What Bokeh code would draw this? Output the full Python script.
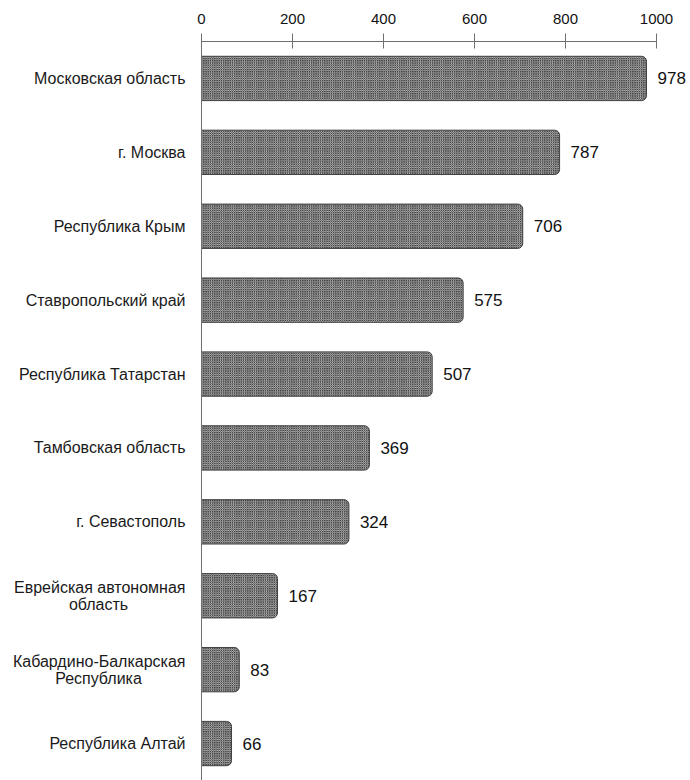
from bokeh.plotting import figure
from bokeh.models import ColumnDataSource, FactorRange, LabelSet, FixedTicker, Span
from bokeh.core.properties import value
from bokeh.embed import file_html
from bokeh.resources import INLINE

# ---- data ----
regions = [
    "Московская область",
    "г. Москва",
    "Республика Крым",
    "Ставропольский край",
    "Республика Татарстан",
    "Тамбовская область",
    "г. Севастополь",
    "Еврейская автономная область",
    "Кабардино-Балкарская Республика",
    "Республика Алтай",
]
values = [978, 787, 706, 575, 507, 369, 324, 167, 83, 66]
label_line1 = [
    "Московская область", "г. Москва", "Республика Крым", "Ставропольский край",
    "Республика Татарстан", "Тамбовская область", "г. Севастополь",
    "Еврейская автономная", "Кабардино-Балкарская", "Республика Алтай",
]
label_line2 = ["", "", "", "", "", "", "", "область", "Республика", ""]
x_ticks = [0, 200, 400, 600, 800, 1000]

FONT = "Liberation Sans"

src = ColumnDataSource(dict(
    region=regions, value=values,
    value_text=[str(v) for v in values],
))
single = [i for i, t in enumerate(label_line2) if t == ""]
double = [i for i, t in enumerate(label_line2) if t != ""]
src_single = ColumnDataSource(dict(region=[regions[i] for i in single],
                                   l1=[label_line1[i] for i in single],
                                   zero=[0] * len(single)))
src_double = ColumnDataSource(dict(region=[regions[i] for i in double],
                                   l1=[label_line1[i] for i in double],
                                   l2=[label_line2[i] for i in double],
                                   zero=[0] * len(double)))

W, H = 690, 780
AX_PX = 201          # pixel position of x = 0
SCALE = 0.455        # pixels per unit
p = figure(
    width=W, height=H,
    y_range=FactorRange(factors=list(reversed(regions)), range_padding=0),
    x_range=(-AX_PX / SCALE, (W - AX_PX) / SCALE),
    x_axis_location="above",
    output_backend="svg", toolbar_location=None,
    min_border_left=0, min_border_right=0, min_border_top=41, min_border_bottom=0,
)
p.outline_line_color = None
p.grid.grid_line_color = None
p.yaxis.visible = False

p.hbar(y="region", right="value", left=0, height=0.6, source=src,
       fill_color="#cfcfcf", line_color="#404040", line_width=1,
       hatch_pattern="diagonal_cross", hatch_color="#444444",
       hatch_scale=2.2, hatch_weight=0.9,
       border_radius=(0, 5, 5, 0))

# vertical axis line at x = 0
p.add_layout(Span(location=0, dimension="height", line_color="#707070", line_width=1))

# x axis (top)
ax = p.xaxis[0]
ax.ticker = FixedTicker(ticks=x_ticks)
ax.bounds = (0, 1000)
ax.axis_line_color = "#707070"
ax.major_tick_line_color = "#707070"
ax.major_tick_in = 7
ax.major_tick_out = 8
ax.minor_tick_line_color = None
ax.major_label_text_font = FONT
ax.major_label_text_font_size = "15px"
ax.major_label_text_color = "#111111"
ax.major_label_standoff = 10

common = dict(text_font=value(FONT), text_font_size=value("16px"),
              text_color="#1a1a1a", text_baseline="middle")
p.add_layout(LabelSet(x="zero", y="region", text="l1", source=src_single,
                      x_offset=-16, text_align="right", **common))
p.add_layout(LabelSet(x="zero", y="region", text="l1", source=src_double,
                      x_offset=-16, y_offset=8.5, text_align="right", **common))
p.add_layout(LabelSet(x="zero", y="region", text="l2", source=src_double,
                      x_offset=-103, y_offset=-8.5, text_align="center", **common))

p.add_layout(LabelSet(x="value", y="region", text="value_text", source=src,
                      x_offset=11, text_align="left", text_baseline="middle",
                      text_font=value(FONT), text_font_size=value("17px"),
                      text_color="#111111"))

open("out.html", "w").write(file_html(p, INLINE))
